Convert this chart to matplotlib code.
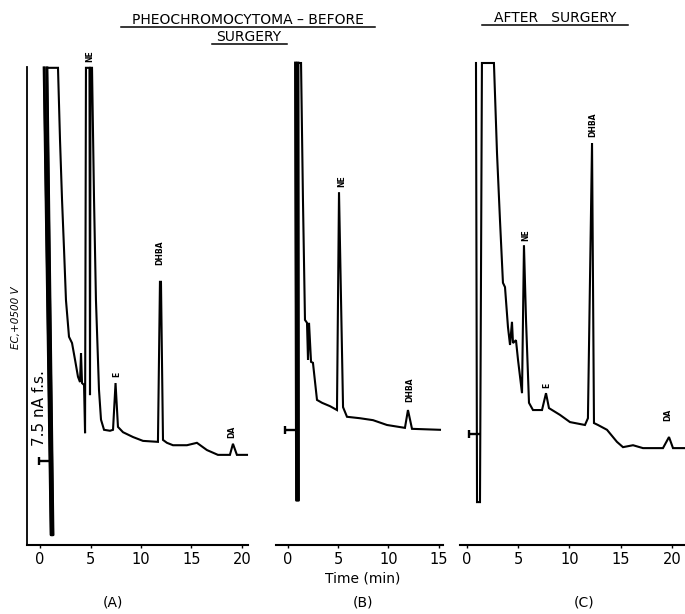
import matplotlib
matplotlib.use("Agg")
import matplotlib.pyplot as plt
from matplotlib.path import Path
from matplotlib.lines import Line2D

# ---------------- data (time in min, detector signal in % of full scale) ----------------
time_a = [0.40, 1.09, 1.29, 0.69, 1.78, 1.98, 2.18, 2.38, 2.57, 2.87, 3.17, 3.47, 3.76, 3.96,
          4.06, 4.16, 4.36, 4.46, 4.55, 4.90, 4.95, 5.00, 5.15, 5.35, 5.54, 5.84, 6.04, 6.34,
          6.93, 7.23, 7.48, 7.72, 8.22, 9.21, 10.20, 11.68, 11.88, 11.98, 12.18, 12.57, 13.17,
          14.55, 15.54, 16.53, 17.62, 18.81, 19.11, 19.50, 20.50]
signal_a = [99.0, 2.1, 2.1, 99.0, 99.0, 84.0, 71.6, 61.2, 50.8, 43.2, 41.9, 38.4, 34.9, 33.8,
            39.8, 33.6, 33.2, 23.2, 99.0, 99.0, 31.1, 99.0, 99.0, 71.6, 50.8, 32.2, 26.0, 23.9,
            23.7, 23.9, 33.6, 24.5, 23.4, 22.4, 21.6, 21.4, 54.6, 54.6, 21.8, 21.2, 20.7,
            20.7, 21.2, 19.7, 18.7, 18.7, 21.0, 18.7, 18.7]

time_b = [0.79, 0.89, 1.09, 1.04, 1.34, 1.53, 1.73, 1.93, 2.03, 2.13, 2.33, 2.52, 2.92, 3.42,
          4.21, 4.90, 5.10, 5.50, 5.89, 7.18, 8.47, 9.85, 11.63, 11.93, 12.33, 15.10]
signal_b = [100.0, 9.3, 9.3, 100.0, 100.0, 71.6, 46.7, 46.1, 38.4, 46.1, 38.0, 37.8, 30.1, 29.5,
            28.8, 28.0, 73.2, 28.6, 26.6, 26.3, 25.9, 24.9, 24.3, 28.0, 24.1, 23.9]

time_c = [0.88, 0.98, 1.27, 1.46, 2.63, 2.93, 3.22, 3.51, 3.71, 4.00, 4.20, 4.39, 4.49, 4.78,
          4.98, 5.37, 5.56, 5.76, 6.05, 6.44, 7.32, 7.71, 8.00, 9.07, 10.05, 11.51, 11.80,
          12.20, 12.39, 12.78, 13.66, 14.63, 15.22, 16.20, 17.17, 19.12, 19.71, 20.10, 21.27]
signal_c = [100.0, 8.9, 8.9, 100.0, 100.0, 81.3, 67.4, 54.4, 53.5, 45.2, 41.5, 46.3, 41.9, 42.5,
            38.4, 31.5, 62.2, 46.7, 29.5, 28.0, 28.0, 31.5, 28.4, 27.0, 25.5, 24.9, 26.3,
            83.4, 25.3, 24.9, 23.9, 21.4, 20.3, 20.7, 20.1, 20.1, 22.4, 20.1, 20.1]

# baseline (zero) marker: time, signal
baseline_a = (-0.10, 17.4)
baseline_b = (-0.25, 23.9)
baseline_c = (0.20, 23.0)

# peak labels: text, time, signal
peaks_a = [("NE", 4.95, 101.5), ("E", 7.62, 35.3), ("DHBA", 11.88, 60.6), ("DA", 19.0, 23.4)]
peaks_b = [("NE", 5.40, 75.5), ("DHBA", 12.13, 32.2)]
peaks_c = [("NE", 5.76, 64.3), ("E", 7.80, 33.2), ("DHBA", 12.29, 87.1), ("DA", 19.6, 27.0)]

ticks_a = [0, 5, 10, 15, 20]
ticks_b = [0, 5, 10, 15]
ticks_c = [0, 5, 10, 15, 20]

W, H = 685, 614
fig = plt.figure(figsize=(W / 100, H / 100), dpi=100)
fig.patch.set_facecolor("white")


def fx(px):
    return px / W


def fy(py):
    return 1 - py / H


# marker resembling the baseline "T" indicator
marker_path = Path([(0, -0.4), (0, 0.4), (0, 0), (1, 0)],
                   [Path.MOVETO, Path.LINETO, Path.MOVETO, Path.LINETO])

bottom_px, top_px = 545, 63
# left px, right px, xlim, time, signal, baseline, peaks, ticks, left spine, thick injection pts
panels = [
    (27, 248, (-1.29, 20.6), time_a, signal_a, baseline_a, peaks_a, ticks_a, True, 4),
    (276, 443, (-1.14, 15.4), time_b, signal_b, baseline_b, peaks_b, ticks_b, False, 4),
    (460, 685, (-0.68, 21.27), time_c, signal_c, baseline_c, peaks_c, ticks_c, False, 0),
]

for left, right, xlim, t, s, base, peaks, ticks, has_left, n_inj in panels:
    ax = fig.add_axes([fx(left), fy(bottom_px), fx(right) - fx(left),
                       fy(top_px) - fy(bottom_px)])
    ax.set_xlim(*xlim)
    ax.set_ylim(0, 100)
    ax.patch.set_alpha(0)
    ax.plot(t, s, color="black", lw=1.5, solid_joinstyle="miter", clip_on=False)
    if n_inj:
        ax.plot(t[:n_inj], s[:n_inj], color="black", lw=2.0, clip_on=False)
    ax.plot([base[0]], [base[1]], marker=marker_path, markersize=16, color="black",
            markeredgewidth=1.7, linestyle="none", clip_on=False)
    for name, pt, ps in peaks:
        ax.text(pt, ps, name, rotation=90, ha="center", va="center", fontsize=5.5,
                fontweight="bold", clip_on=False)
    for sp in ["top", "right"]:
        ax.spines[sp].set_visible(False)
    ax.spines["bottom"].set_linewidth(1.5)
    if has_left:
        ax.spines["left"].set_linewidth(1.3)
        ax.spines["left"].set_bounds(0, 99.2)
    else:
        ax.spines["left"].set_visible(False)
    ax.set_yticks([])
    ax.set_xticks(ticks)
    ax.set_xticklabels([str(v) for v in ticks])
    ax.tick_params(axis="x", length=2, width=1, pad=3, labelsize=10.5)

# titles with underlines
fig.text(fx(248), fy(20), "PHEOCHROMOCYTOMA \u2013 BEFORE", ha="center", va="center",
         fontsize=10)
fig.text(fx(249), fy(37), "SURGERY", ha="center", va="center", fontsize=10)
fig.text(fx(555), fy(18), "AFTER   SURGERY", ha="center", va="center", fontsize=10)
for x0, x1, yy in [(121, 375, 27), (212, 287, 44), (482, 628, 25)]:
    fig.add_artist(Line2D([fx(x0), fx(x1)], [fy(yy), fy(yy)], color="black", lw=1.1,
                          transform=fig.transFigure))

# side labels
fig.text(fx(16), fy(318), "EC,+0500 V", rotation=90, ha="center", va="center",
         fontsize=7.5, fontstyle="italic")
fig.text(fx(39), fy(408), "7.5 nA f.s.", rotation=90, ha="center", va="center",
         fontsize=11)

# axis caption and panel letters
fig.text(fx(363), fy(579), "Time (min)", ha="center", va="center", fontsize=10)
for lab, xx in [("(A)", 113), ("(B)", 363), ("(C)", 584)]:
    fig.text(fx(xx), fy(603), lab, ha="center", va="center", fontsize=10)

fig.savefig("out.png", dpi=100)
